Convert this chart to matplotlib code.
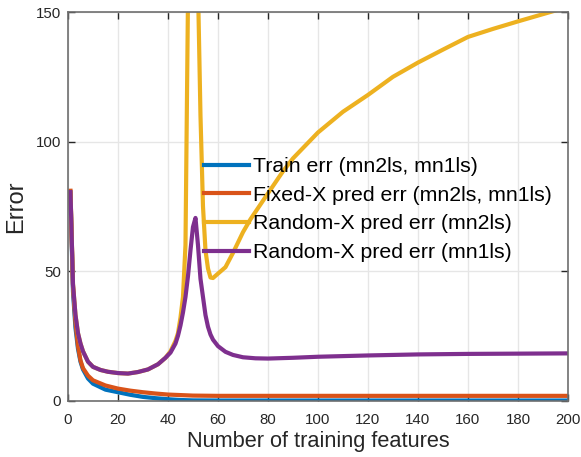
import matplotlib.pyplot as plt

plt.rcParams['font.family'] = ['Liberation Sans', 'DejaVu Sans']

# Train err (mn2ls, mn1ls)
train_x = [1, 2, 3, 4, 5, 6, 8, 10, 15, 20, 25, 30, 35, 40, 45, 50, 60, 100, 150, 200]
train_y = [80, 42, 28, 20, 15, 12, 8.5, 6.5, 4.2, 3.2, 2.2, 1.4, 0.9, 0.5, 0.2, 0.05, 0, 0, 0, 0]

# Fixed-X pred err (mn2ls, mn1ls)
fixed_x = [1, 2, 3, 4, 5, 6, 8, 10, 15, 20, 25, 30, 35, 40, 45, 50, 60, 100, 150, 200]
fixed_y = [81, 44, 30, 21, 15.5, 12.5, 9.6, 7.8, 5.8, 4.6, 3.8, 3.2, 2.7, 2.3, 2.1, 1.9, 1.8, 1.8, 1.8, 1.8]

# Random-X pred err (mn2ls)
rand2_x = [1, 2, 3, 4, 5, 6, 8, 10, 13, 16, 20, 24, 28, 32, 36, 39, 41, 43, 44, 45, 46, 47,
           48, 49, 50, 51, 52, 53, 54, 55, 56, 57, 58, 60, 63, 66, 70, 73, 80, 86, 90, 100,
           110, 120, 130, 140, 150, 160, 170, 180, 190, 200]
rand2_y = [80.5, 45, 33, 26, 22, 19, 15, 13, 11.8, 11.1, 10.6, 10.4, 11, 12, 14, 16.5, 19, 23, 26, 32, 40, 60,
           155, 400, 1000, 400, 160, 110, 75, 58, 51, 47.5, 47.3, 49, 51.5, 57, 65, 70, 80, 88.5, 93.5, 103.5,
           111.5, 118, 125, 130.5, 135.5, 140.4, 143.5, 146.4, 149.2, 152]

# Random-X pred err (mn1ls)
rand1_x = [1, 2, 3, 4, 5, 6, 8, 10, 13, 16, 20, 24, 28, 32, 36, 39, 41, 43, 44, 45, 46, 47,
           48, 49, 50, 51, 52, 53, 54, 55, 56, 57, 58, 60, 63, 66, 70, 75, 80, 90, 100,
           120, 140, 160, 180, 200]
rand1_y = [80.5, 45, 33, 26, 22, 19, 15, 13, 11.8, 11.1, 10.6, 10.4, 11, 12, 14, 16.5, 18.5, 22, 25, 29, 34, 40,
           48, 58, 67, 70.5, 60, 47, 40, 33, 28.5, 25.5, 23.5, 21, 18.8, 17.6, 16.7, 16.3, 16.2, 16.5, 16.9,
           17.4, 17.8, 18.0, 18.1, 18.2]

fig = plt.figure(figsize=(5.81, 4.57), dpi=100)
ax = fig.add_axes([0.117, 0.1236, 0.8606, 0.85])

lw = 3.0
ax.plot(train_x, train_y, color='#0072BD', lw=lw, label='Train err (mn2ls, mn1ls)')
ax.plot(fixed_x, fixed_y, color='#D95319', lw=lw, label='Fixed-X pred err (mn2ls, mn1ls)')
ax.plot(rand2_x, rand2_y, color='#EDB120', lw=lw, label='Random-X pred err (mn2ls)')
ax.plot(rand1_x, rand1_y, color='#7E2F8E', lw=lw, label='Random-X pred err (mn1ls)')

ax.set_xlim(0, 200)
ax.set_ylim(0, 150)
ax.set_xticks(range(0, 201, 20))
ax.set_yticks([0, 50, 100, 150])
ax.grid(True, color='#e6e6e6', lw=1)
ax.set_axisbelow(True)
ax.tick_params(direction='in', top=True, right=True, length=5, width=1,
               colors='#262626', labelsize=10.8)
ax.tick_params(axis='x', pad=9)
ax.tick_params(axis='y', pad=5)
for s in ax.spines.values():
    s.set_color('#6e6e6e')
    s.set_linewidth(1.2)

ax.set_xlabel('Number of training features', fontsize=15.7, color='#262626', labelpad=3)
ax.set_ylabel('Error', fontsize=17, color='#262626', labelpad=6)

ax.legend(loc='upper left', bbox_to_anchor=(0.272, 0.626), frameon=False,
          fontsize=15.3, handlelength=2.1, handletextpad=0.19, labelspacing=0.45,
          borderaxespad=0, borderpad=0)

fig.savefig('out.png')
